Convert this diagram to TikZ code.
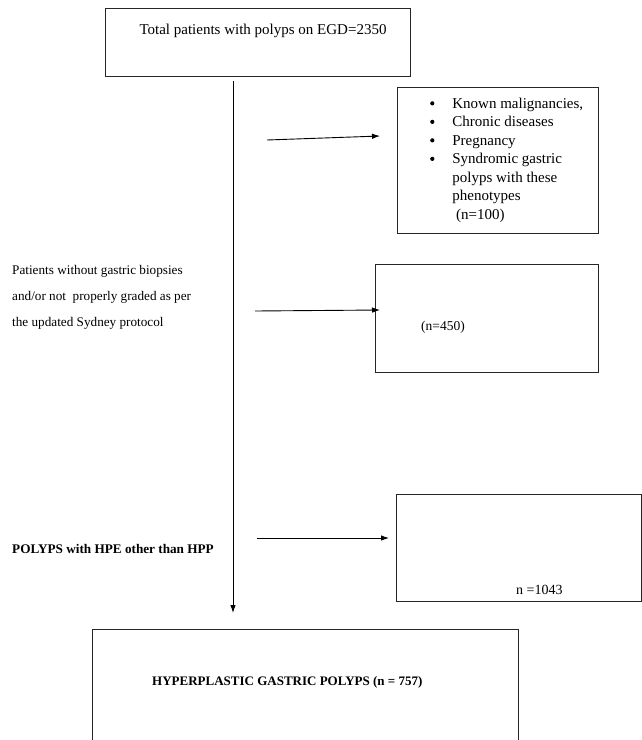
\documentclass[tikz,border=0pt]{standalone}
\usepackage{fontspec}
\setmainfont{Liberation Serif}
\usetikzlibrary{arrows.meta}
\newcommand{\bigbul}{\raisebox{0.2ex}{\tikz[baseline]\fill (0,0.5ex) circle (2.1pt);}}
\begin{document}
\begin{tikzpicture}[x=1pt,y=-1pt,
  boxstyle/.style={draw=black!85,line width=0.9pt},
  arr/.style={line width=0.9pt,-{Latex[length=8pt,width=5.5pt]}},
  small/.style={font=\fontsize{13.5}{15}\selectfont,inner sep=0pt},
  mid/.style={font=\fontsize{15}{18.5}\selectfont,inner sep=0pt}]
\useasboundingbox[fill=white] (0,0) rectangle (641,740);
% boxes
\draw[boxstyle] (105,8) rectangle (410,76);
\node[mid,anchor=base] (t1) at (263,34) {Total patients with polyps on EGD=2350};
\draw[boxstyle] (397,87) rectangle (598,233);
\coordinate (b2w) at (380,136);
\node[mid,anchor=north west,align=left] (b2t) at (430,95) {%
\begin{tabular}{@{}l@{\hspace{18pt}}l@{}}
\bigbul & Known malignancies,\\
\bigbul & Chronic diseases\\
\bigbul & Pregnancy\\
\bigbul & Syndromic gastric\\
 & polyps with these\\
 & phenotypes\\
 & \ (n=100)
\end{tabular}};
\draw[boxstyle] (375,264) rectangle (598,372);
\coordinate (b3w) at (380,310);
\node[small,anchor=base west,font=\fontsize{13.5}{15}\selectfont] (n450) at (421,330) {(n=450)};
\draw[boxstyle] (396,494) rectangle (641,601);
\coordinate (b4w) at (389,538);
\node[small,anchor=base west,font=\fontsize{14}{15}\selectfont] (n1043) at (516,594) {n =1043};
\draw[boxstyle] (92,629) -- (92,741) (92,629) -- (518,629) -- (518,741);
\node[small,anchor=base west,font=\bfseries\fontsize{13}{15}\selectfont] (hgp) at (152,685) {HYPERPLASTIC GASTRIC POLYPS (n = 757)};
% left texts
\node[small,anchor=base west,font=\fontsize{13.2}{15}\selectfont] (l1) at (12,274) {Patients without gastric biopsies};
\node[small,anchor=base west,font=\fontsize{13.2}{15}\selectfont] (l2) at (12,300) {and/or not\ \ properly graded as per};
\node[small,anchor=base west,font=\fontsize{13.2}{15}\selectfont] (l3) at (12,326) {the updated Sydney protocol};
\node[small,anchor=base west,font=\bfseries\fontsize{13.2}{15}\selectfont] (l4) at (12,553) {POLYPS with HPE other than HPP};
% connectors
\coordinate (vs) at (233,81);
\coordinate (ve) at (233,613);
\draw[arr] (vs) -- (ve);
\coordinate (a1s) at (267,140);
\draw[arr] (a1s) -- (b2w);
\coordinate (a2s) at (255,311);
\draw[arr] (a2s) -- (b3w);
\coordinate (a3s) at (257,538);
\draw[arr] (a3s) -- (b4w);
\end{tikzpicture}
\end{document}
